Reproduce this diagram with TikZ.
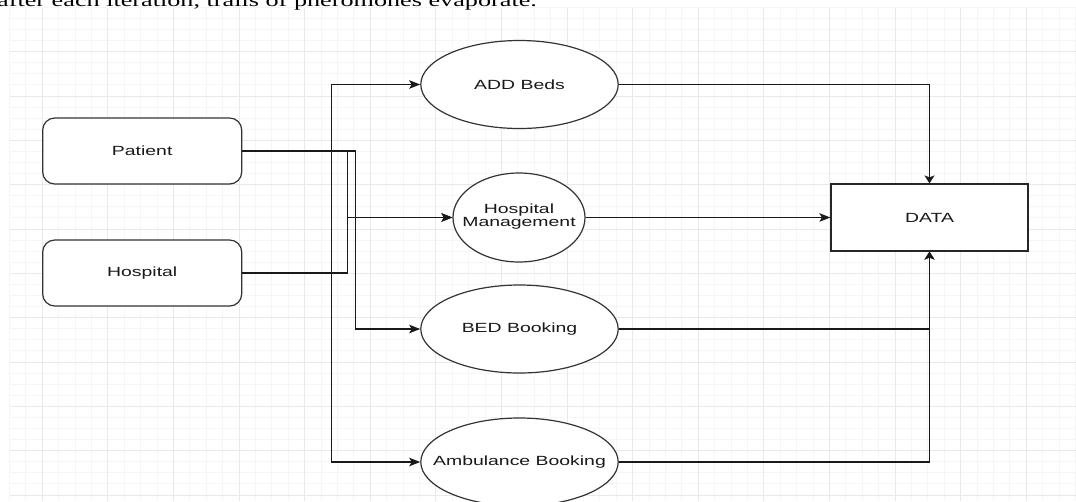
\documentclass[tikz,border=0pt]{standalone}
\usepackage{fontspec}
\setmainfont{Liberation Sans}
\newfontfamily\dfont[FakeStretch=1.46]{Liberation Sans}
\newfontfamily\sfont[FakeStretch=1.48]{Liberation Serif}
\usetikzlibrary{shapes.geometric,arrows.meta}
\tikzset{
  gminor/.style={draw=gray!7, line width=1pt},
  gmajor/.style={draw=gray!17, line width=1pt},
  lbl/.style={font=\dfont\fontsize{13.3}{14}\selectfont, text=black!90},
  proc/.style={lbl, draw=black!80, fill=white, line width=1.2pt, rounded corners=12pt,
    minimum width=199pt, minimum height=66pt, inner sep=0pt},
  oval/.style={lbl, draw=black!80, fill=white, line width=1.2pt, ellipse, inner sep=0pt},
  store/.style={lbl, draw=black!85, fill=white, line width=1.2pt, rectangle, inner sep=0pt},
  conn/.style={draw=black!90, line width=1.3pt},
  harrow/.style={conn, -{Stealth[length=11pt,width=8.5pt,inset=2.5pt]}},
  varrow/.style={conn, -{Stealth[length=8pt,width=10pt,inset=2pt]}}
}
\begin{document}
\begin{tikzpicture}[x=1pt,y=-1pt]
\useasboundingbox (0,0) rectangle (1076,501);
% grid
\foreach \k in {-2,...,63} {\draw[gminor] ({42.3+16.4*\k},7.5) -- ({42.3+16.4*\k},501);}
\foreach \k in {-4,...,40} {\draw[gminor] (9.5,{51.7+11.083*\k}) -- (1076,{51.7+11.083*\k});}
\foreach \k in {0,...,15} {\draw[gmajor] ({42.3+65.6*\k},7.5) -- ({42.3+65.6*\k},501);}
\foreach \k in {0,...,10} {\draw[gmajor] (9.5,{51.7+44.33*\k}) -- (1076,{51.7+44.33*\k});}
% caption (cut off at the top, as in the reference)
\node[anchor=base west, inner sep=0pt, font=\sfont\fontsize{17.7}{20}\selectfont] (caption) at (-3,6.5)
  {after each iteration, trails of pheromones evaporate.};
% nodes
\node[proc] (patient) at (142.2,151) {Patient};
\node[proc] (hospital) at (142.2,273) {Hospital};
\node[oval, minimum width=197.4pt, minimum height=88pt] (addbeds) at (519.5,84.5) {\makebox[0pt]{ADD Beds}};
\node[oval, minimum width=132pt, minimum height=89pt] (hm) at (519,217.5)
  {\makebox[0pt]{\renewcommand{\arraystretch}{0.92}\begin{tabular}{@{}c@{}}Hospital\\Management\end{tabular}}};
\node[oval, minimum width=197.4pt, minimum height=88pt] (bed) at (519.5,329) {\makebox[0pt]{BED Booking}};
\node[oval, minimum width=197.4pt, minimum height=88pt] (amb) at (519.5,462) {\makebox[0pt]{Ambulance Booking}};
\node[store, minimum width=197pt, minimum height=67pt] (data) at (929.5,217.5) {DATA};
% connectors
\draw[harrow] (hospital.east) -- ++(89,0) |- (addbeds.west);
\draw[harrow] (patient.east) -- ++(89,0) |- (amb.west);
\draw[harrow] (patient.east) -- ++(105,0) |- (hm.west);
\draw[harrow] (hospital.east) -- ++(105,0) |- (hm.west);
\draw[harrow] (patient.east) -- ++(113,0) |- (bed.west);
\draw[varrow] (addbeds.east) -| (data.north);
\draw[harrow] (hm.east) -- (data.west);
\draw[varrow] (bed.east) -| (data.south);
\draw[varrow] (amb.east) -| (data.south);
\end{tikzpicture}
\end{document}
